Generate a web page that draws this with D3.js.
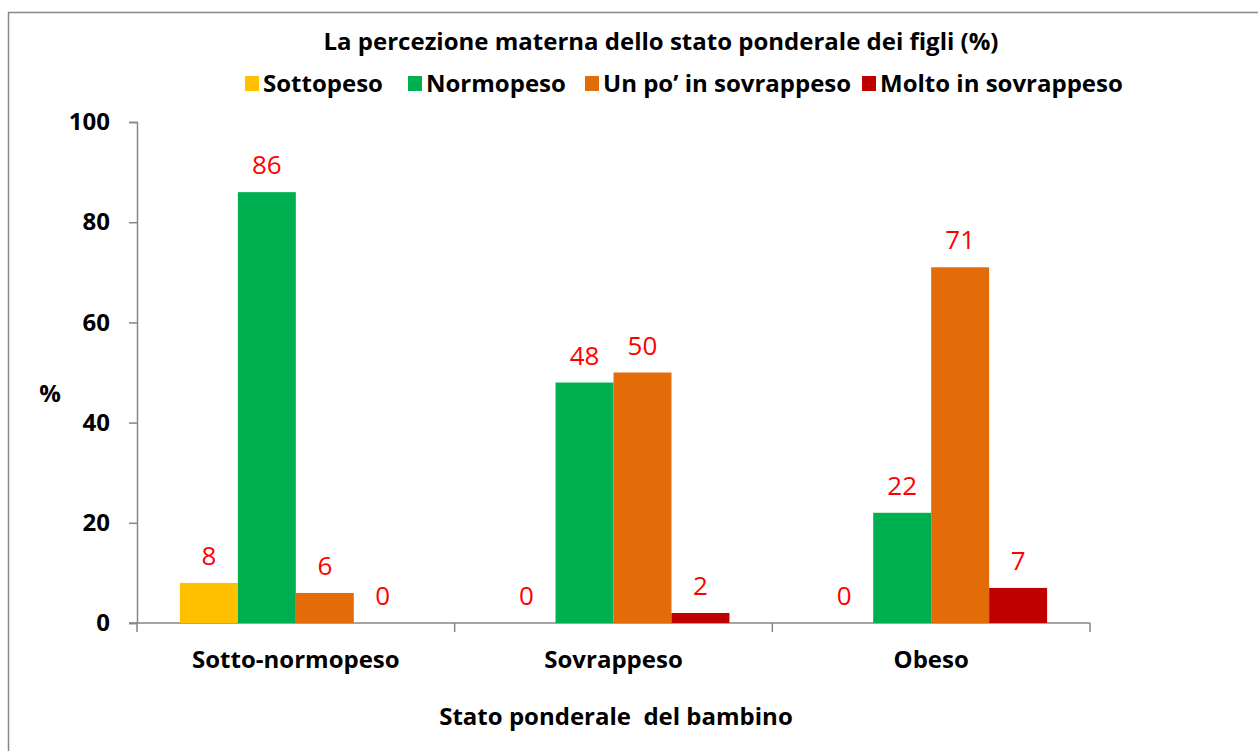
<!DOCTYPE html>
<html>
<head>
<meta charset="utf-8">
<script src="https://cdn.jsdelivr.net/npm/d3@7"></script>
<style>
  body { margin: 0; background: #fff; }
  svg text { font-family: "Open Sans", sans-serif; }
</style>
</head>
<body>
<svg width="1258" height="751"></svg>
<script>
var categories = ["Sotto-normopeso", "Sovrappeso", "Obeso"];
var seriesNames = ["Sottopeso", "Normopeso", "Un po\u2019 in sovrappeso", "Molto in sovrappeso"];
var sottopeso = [8, 0, 0];
var normopeso = [86, 48, 22];
var unPo = [6, 50, 71];
var molto = [0, 2, 7];
var yTicks = [0, 20, 40, 60, 80, 100];

var colors = ["#FFC000", "#00B050", "#E36C09", "#C00000"];
var allSeries = [sottopeso, normopeso, unPo, molto];
var font = "'Open Sans', sans-serif";

var svg = d3.select("svg"),
    width = +svg.attr("width"),
    height = +svg.attr("height");

// outer chart border
svg.append("rect")
  .attr("x", 8.5).attr("y", 12.5)
  .attr("width", width + 10).attr("height", height + 10)
  .attr("fill", "none").attr("stroke", "#878787").attr("stroke-width", 1.5);

var margin = {left: 137, right: 168, top: 122, bottom: 128};
var x = d3.scaleBand().domain(categories)
    .range([margin.left, width - margin.right]).paddingInner(0).paddingOuter(0);
var xs = d3.scaleBand().domain(d3.range(seriesNames.length))
    .range([0, x.bandwidth()]).paddingOuter(0.74).paddingInner(0);
var y = d3.scaleLinear().domain([0, 100]).range([height - margin.bottom, margin.top]);

// title
svg.append("text")
  .attr("x", 661).attr("y", 50)
  .attr("text-anchor", "middle")
  .attr("font-size", 24).attr("font-weight", "bold")
  .text("La percezione materna dello stato ponderale dei figli (%)");

// legend
var legendX = [245, 408, 585, 862];
var legend = svg.append("g").selectAll("g")
  .data(seriesNames).enter().append("g")
  .attr("transform", function(d, i) { return "translate(" + legendX[i] + ",76)"; });
legend.append("rect")
  .attr("width", 14).attr("height", 15)
  .attr("fill", function(d, i) { return colors[i]; });
legend.append("text")
  .attr("x", 18).attr("y", 16)
  .attr("font-size", 24).attr("font-weight", "bold")
  .text(function(d) { return d; });

// y axis
var yAxis = svg.append("g")
  .attr("transform", "translate(" + margin.left + ",0)")
  .call(d3.axisLeft(y).tickValues(yTicks).tickSize(8).tickPadding(19));
yAxis.select(".domain").attr("stroke", "#868686").attr("stroke-width", 1.5);
yAxis.selectAll(".tick line").attr("stroke", "#868686").attr("stroke-width", 1.5);
yAxis.selectAll(".tick text")
  .attr("font-size", 24).attr("font-weight", "bold").attr("fill", "#000")
  .style("font-family", font);

// x axis
var xAxis = svg.append("g")
  .attr("transform", "translate(0," + y(0) + ")")
  .call(d3.axisBottom(x).tickSize(0).tickPadding(28));
xAxis.select(".domain").attr("stroke", "#868686").attr("stroke-width", 1.5)
  .attr("d", "M" + (margin.left - 8) + ",0H" + (width - margin.right));
xAxis.selectAll(".tick text")
  .attr("font-size", 24).attr("font-weight", "bold").attr("fill", "#000")
  .style("font-family", font);
// category separators
xAxis.selectAll("line.sep")
  .data(categories.concat(["end"])).enter().append("line")
  .attr("class", "sep")
  .attr("x1", function(d, i) { return margin.left + i * x.bandwidth(); })
  .attr("x2", function(d, i) { return margin.left + i * x.bandwidth(); })
  .attr("y1", 0).attr("y2", 9)
  .attr("stroke", "#868686").attr("stroke-width", 1.5);

// axis titles
svg.append("text")
  .attr("x", 50).attr("y", 402)
  .attr("text-anchor", "middle")
  .attr("font-size", 24).attr("font-weight", "bold")
  .text("%");
svg.append("text")
  .attr("x", 616).attr("y", 725)
  .attr("text-anchor", "middle")
  .attr("font-size", 24).attr("font-weight", "bold")
  .style("white-space", "pre")
  .text("Stato ponderale  del bambino");

// bars
var groups = svg.append("g").selectAll("g")
  .data(categories).enter().append("g")
  .attr("transform", function(d) { return "translate(" + x(d) + ",0)"; });

groups.each(function(cat, ci) {
  var g = d3.select(this);
  var vals = allSeries.map(function(s, si) { return {si: si, v: s[ci]}; });
  g.selectAll("rect")
    .data(vals).enter().append("rect")
    .attr("x", function(d) { return xs(d.si); })
    .attr("width", xs.bandwidth())
    .attr("y", function(d) { return y(d.v); })
    .attr("height", function(d) { return y(0) - y(d.v); })
    .attr("fill", function(d) { return colors[d.si]; });
  g.selectAll("text.val")
    .data(vals).enter().append("text")
    .attr("class", "val")
    .attr("x", function(d) { return xs(d.si) + xs.bandwidth() / 2; })
    .attr("y", function(d) { return y(d.v) - 18; })
    .attr("text-anchor", "middle")
    .attr("font-size", 26)
    .attr("fill", "#FF0000")
    .text(function(d) { return d.v; });
});
</script>
</body>
</html>
